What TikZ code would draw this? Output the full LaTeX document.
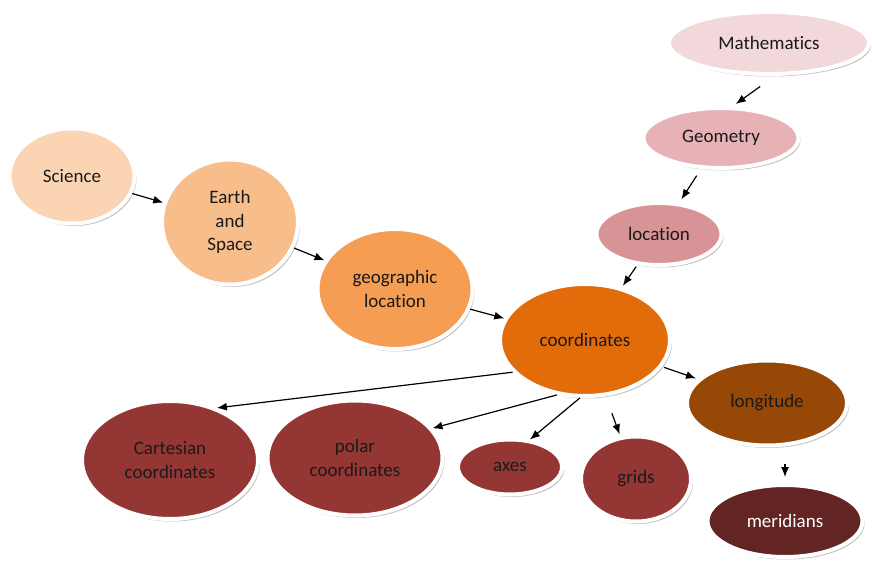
\documentclass[tikz,border=0pt]{standalone}
\usepackage{fontspec}
\setmainfont{Carlito}[Ligatures=NoCommon]
\usetikzlibrary{shapes.geometric,shadows,arrows.meta}

\definecolor{mathpink}{HTML}{F2D8DB}
\definecolor{geopink}{HTML}{E6B2B6}
\definecolor{locpink}{HTML}{D89396}
\definecolor{scipeach}{HTML}{FBD4B4}
\definecolor{earthpeach}{HTML}{F7BE8C}
\definecolor{geoorange}{HTML}{F59D52}
\definecolor{coordorange}{HTML}{E36C0A}
\definecolor{longbrown}{HTML}{974806}
\definecolor{merdark}{HTML}{632523}
\definecolor{leafred}{HTML}{943634}
\definecolor{txtgray}{HTML}{1A1A1A}

\begin{document}
\begin{tikzpicture}[x=1pt,y=-1pt]
  \tikzset{>={Latex[length=10pt,width=8pt]}}
  \tikzset{
    bubble/.style={ellipse,draw=white,line width=4pt,inner sep=0pt,align=center,
      text=txtgray,font=\fontsize{19}{23.5}\selectfont,
      drop shadow={shadow xshift=2pt,shadow yshift=-2.5pt,fill=black!45,opacity=.55}},
    arr/.style={->,line width=1.2pt,black}
  }
  \useasboundingbox (0,0) rectangle (872,569);

  % top chain
  \node[bubble,fill=mathpink,minimum width=200pt,minimum height=62pt] (math) at (769,43) {Mathematics};
  \node[bubble,fill=geopink,minimum width=155pt,minimum height=60pt] (geom) at (721,138) {Geometry};
  \node[bubble,fill=locpink,minimum width=125pt,minimum height=62pt] (loc) at (659,234) {location};

  % left chain
  \node[bubble,fill=scipeach,minimum width=125pt,minimum height=95pt] (sci) at (72,176) {Science};
  \node[bubble,fill=earthpeach,minimum width=136pt,minimum height=125pt] (earth) at (230,222) {Earth\\and\\Space};
  \node[bubble,fill=geoorange,minimum width=155pt,minimum height=120pt] (geoloc) at (395,289) {geographic\\location};

  \node[bubble,fill=coordorange,minimum width=170pt,minimum height=112pt] (coord) at (585,340) {coordinates};

  % lower row
  \node[bubble,fill=leafred,minimum width=176pt,minimum height=118pt] (cart) at (170,460) {Cartesian\\coordinates};
  \node[bubble,fill=leafred,minimum width=175pt,minimum height=115pt] (polar) at (355,458) {polar\\coordinates};
  \node[bubble,fill=leafred,minimum width=104pt,minimum height=55pt] (axes) at (510,467) {axes};
  \node[bubble,fill=leafred,minimum width=110pt,minimum height=85pt] (grids) at (636,479) {grids};
  \node[bubble,fill=longbrown,minimum width=160pt,minimum height=85pt] (long) at (767,403) {longitude};
  \node[bubble,fill=merdark,text=white,minimum width=155pt,minimum height=72pt] (mer) at (785,521) {meridians};

  % connectors
  \draw[arr] (sci) -- (earth);
  \draw[arr] (earth) -- (geoloc);
  \draw[arr] (geoloc) -- (coord);
  \draw[arr,shorten <=18pt,shorten >=4pt] (math.-80) -- (geom.70);
  \draw[arr,shorten <=8pt,shorten >=4pt] (geom) -- (loc);
  \draw[arr,shorten <=2pt,shorten >=2pt] (loc) -- (coord);
  \draw[arr] (coord.204) -- (cart.48);
  \draw[arr] (coord.243) -- (polar.21);
  \draw[arr] (coord.265) -- (axes.54);
  \draw[arr,shorten <=18pt,shorten >=2pt] (coord) -- (grids);
  \draw[arr,shorten <=2pt,shorten >=2pt] (coord) -- (long);
  \draw[arr,shorten <=16pt,shorten >=6pt] (mer.north |- long.south) -- (mer.north);

\end{tikzpicture}
\end{document}
